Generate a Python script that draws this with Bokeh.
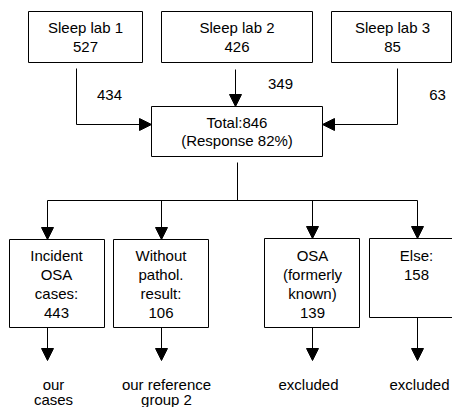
from bokeh.plotting import figure
from bokeh.models import Arrow, NormalHead, ColumnDataSource
from bokeh.core.properties import value
from bokeh.embed import file_html
from bokeh.resources import INLINE

# ---- data ----
lab_names = ["Sleep lab 1", "Sleep lab 2", "Sleep lab 3"]
lab_counts = [527, 426, 85]
lab_responders = [434, 349, 63]
total_count = 846
response_pct = 82
outcome_labels = [["Incident", "OSA", "cases:"], ["Without", "pathol.", "result:"],
                  ["OSA", "(formerly", "known)"], ["Else:"]]
outcome_counts = [443, 106, 139, 158]
outcome_fate = [["our", "cases"], ["our reference", "group 2"], ["excluded"], ["excluded"]]

# ---- layout (picture pixel coordinates) ----
lab_boxes = [(28, 142, 11, 62), (161, 312, 11, 62), (331, 451, 11, 62)]
lab_cx = [85, 236.5, 392]
total_box = (151, 322, 106, 156)
out_boxes = [(9, 104, 239, 327), (113, 208, 239, 327), (264, 359, 238, 327), (369, 480, 238, 317)]
out_cx = [56, 160.5, 312, 416]
arrow_x = [47, 161, 312, 417]
fate_cx = [53, 166, 308, 419]
flow_label_xy = [(109, 94), (280, 83), (437, 94)]
LINE = 19
FONT = value("Liberation Sans")
FS = "15px"

p = figure(width=452, height=407, x_range=(0, 452), y_range=(407, 0),
           output_backend="svg", toolbar_location=None, min_border=0)
p.axis.visible = False
p.grid.visible = False
p.outline_line_color = None
p.background_fill_color = "white"
p.border_fill_color = "white"

boxes = lab_boxes + [total_box] + out_boxes
p.quad(left=[b[0] for b in boxes], right=[b[1] for b in boxes],
       bottom=[b[3] for b in boxes], top=[b[2] for b in boxes],
       fill_color="white", line_color="black", line_width=1)

tx, ty, tt = [], [], []
for i, (name, cnt) in enumerate(zip(lab_names, lab_counts)):
    tx += [lab_cx[i], lab_cx[i]]
    ty += [27, 27 + LINE]
    tt += [name, str(cnt)]
tx += [236.5, 236.5]
ty += [122, 140]
tt += ["Total:%d" % total_count, "(Response %d%%)" % response_pct]
for i, (lines, cnt) in enumerate(zip(outcome_labels, outcome_counts)):
    allines = lines + [str(cnt)]
    for j, ln in enumerate(allines):
        tx.append(out_cx[i]); ty.append(255 + j * LINE); tt.append(ln)
for i, lines in enumerate(outcome_fate):
    for j, ln in enumerate(lines):
        tx.append(fate_cx[i]); ty.append(384 + j * 15); tt.append(ln)
for (x, y), n in zip(flow_label_xy, lab_responders):
    tx.append(x); ty.append(y); tt.append(str(n))

src = ColumnDataSource(dict(x=tx, y=ty, text=tt))
p.text(x="x", y="y", text="text", source=src, text_font=FONT, text_font_size=FS,
       text_align="center", text_baseline="middle", text_color="black")

# connector lines
p.multi_line(xs=[[76, 76], [397, 397], [237, 237], [47, 417]],
             ys=[[68, 124], [68, 124], [162, 200], [200, 200]],
             line_color="black", line_width=1)

def arrow(x0, y0, x1, y1):
    p.add_layout(Arrow(end=NormalHead(size=12, fill_color="black", line_color="black"),
                       x_start=x0, y_start=y0, x_end=x1, y_end=y1,
                       line_color="black", line_width=1))

arrow(76, 124, 151, 124)
arrow(235, 69, 235, 106)
arrow(397, 124, 322, 124)
for x, b in zip(arrow_x, out_boxes):
    arrow(x, 200, x, b[2])
    arrow(x, b[3], x, 360)

open("out.html", "w").write(file_html(p, INLINE))
